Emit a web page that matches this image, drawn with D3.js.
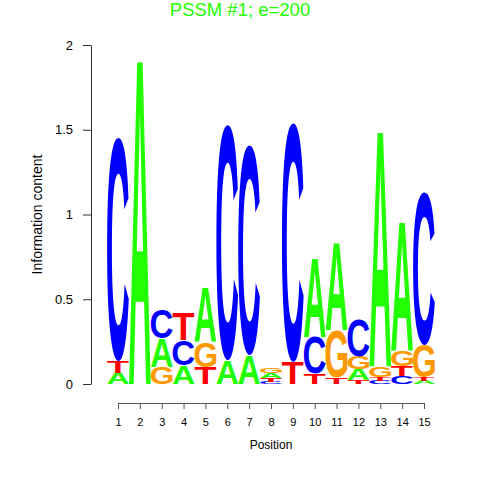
<!DOCTYPE html>
<html>
<head>
<meta charset="utf-8">
<script src="https://cdn.jsdelivr.net/npm/d3@7"></script>
<style>
	body { margin: 0; background: #fff; }
	svg { display: block; }
</style>
</head>
<body>
<svg id="main_svg"></svg>
<script>
const WIDTH = 480;
const HEIGHT = 480;

// Information content (bits) for each letter at each position
const positions = [1, 2, 3, 4, 5, 6, 7, 8, 9, 10, 11, 12, 13, 14, 15];
const bits_A = [0.065, 1.93, 0.17, 0.11, 0.32, 0.14, 0.17, 0.03, 0.00, 0.47, 0.52, 0.065, 1.40, 0.77, 0.02];
const bits_C = [1.32, 0.00, 0.17, 0.15, 0.00, 1.39, 1.24, 0.012, 1.41, 0.22, 0.00, 0.22, 0.02, 0.045, 0.90];
const bits_G = [0.00, 0.00, 0.10, 0.00, 0.15, 0.00, 0.00, 0.032, 0.00, 0.00, 0.28, 0.075, 0.065, 0.09, 0.19];
const bits_T = [0.07, 0.00, 0.00, 0.16, 0.10, 0.00, 0.00, 0.024, 0.13, 0.06, 0.04, 0.025, 0.02, 0.06, 0.02];
const y_ticks = [0, 0.5, 1, 1.5, 2];
const title = 'PSSM #1; e=200';

const letter_colors = {A: '#22ff00', C: '#0000ff', G: '#ff9900', T: '#ff0000'};
const FONT = 'bold 100px "Liberation Sans"';
const LABEL_FONT = 'Liberation Sans, Arial, sans-serif';

const svg = d3.select('#main_svg').attr('width', WIDTH).attr('height', HEIGHT);

const x_scale = d3.scaleLinear().domain([1, 15]).range([118, 424]);
const y_scale = d3.scaleLinear().domain([0, 2]).range([384, 45]);
const col_w = x_scale(2) - x_scale(1);

// tight ink bounds of each glyph, from canvas
const ctx = document.createElement('canvas').getContext('2d');
ctx.font = FONT;
const glyph = {};
['A', 'C', 'G', 'T'].forEach(l => {
	const m = ctx.measureText(l);
	glyph[l] = {
		left: m.actualBoundingBoxLeft,
		top: m.actualBoundingBoxAscent,
		w: m.actualBoundingBoxLeft + m.actualBoundingBoxRight,
		h: m.actualBoundingBoxAscent + m.actualBoundingBoxDescent
	};
});

// build stacks: smallest at bottom, largest on top
const stacks = positions.map((p, i) => {
	const letters = [
		{l: 'A', v: bits_A[i]}, {l: 'C', v: bits_C[i]},
		{l: 'G', v: bits_G[i]}, {l: 'T', v: bits_T[i]}
	].filter(d => d.v > 0).sort((a, b) => a.v - b.v);
	let base = 0;
	letters.forEach(d => { d.y0 = base; base += d.v; d.y1 = base; d.pos = p; });
	return letters;
});

const logo = svg.append('g');
stacks.flat().forEach(d => {
	const g = glyph[d.l];
	const x0 = x_scale(d.pos) - col_w / 2;
	const top = y_scale(d.y1);
	const h = y_scale(d.y0) - top;
	const sx = col_w / g.w;
	const sy = h / g.h;
	logo.append('text')
		.attr('transform', `translate(${x0},${top}) scale(${sx},${sy}) translate(${g.left},${g.top})`)
		.style('font', FONT)
		.attr('fill', letter_colors[d.l])
		.text(d.l);
});

// y axis
svg.append('g')
	.attr('transform', 'translate(91,0)')
	.call(d3.axisLeft(y_scale).tickValues(y_ticks).tickSize(8).tickSizeOuter(0).tickPadding(10)
		.tickFormat(d => d))
	.call(g => g.select('.domain').attr('stroke', '#333'))
	.call(g => g.selectAll('line').attr('stroke', '#333'))
	.call(g => g.selectAll('text').attr('font-family', LABEL_FONT)
		.attr('font-size', '13px').attr('fill', '#000'));

// x axis
svg.append('g')
	.attr('transform', 'translate(0,403)')
	.call(d3.axisBottom(x_scale).tickValues(positions).tickSize(6).tickSizeOuter(0).tickPadding(9)
		.tickFormat(d => d))
	.call(g => g.select('.domain').attr('stroke', '#555'))
	.call(g => g.selectAll('line').attr('stroke', '#555'))
	.call(g => g.selectAll('text').attr('font-family', LABEL_FONT)
		.attr('font-size', '11px').attr('fill', '#000'));

svg.append('text')
	.attr('x', x_scale(8))
	.attr('y', 449)
	.attr('text-anchor', 'middle')
	.attr('font-family', LABEL_FONT)
	.attr('font-size', '12px')
	.text('Position');

svg.append('text')
	.attr('transform', `translate(42,${y_scale(1)}) rotate(-90)`)
	.attr('text-anchor', 'middle')
	.attr('font-family', LABEL_FONT)
	.attr('font-size', '14px')
	.text('Information content');

svg.append('text')
	.attr('x', 240)
	.attr('y', 16)
	.attr('text-anchor', 'middle')
	.attr('font-family', LABEL_FONT)
	.attr('font-size', '18.5px')
	.attr('fill', '#22ff00')
	.text(title);
</script>
</body>
</html>
